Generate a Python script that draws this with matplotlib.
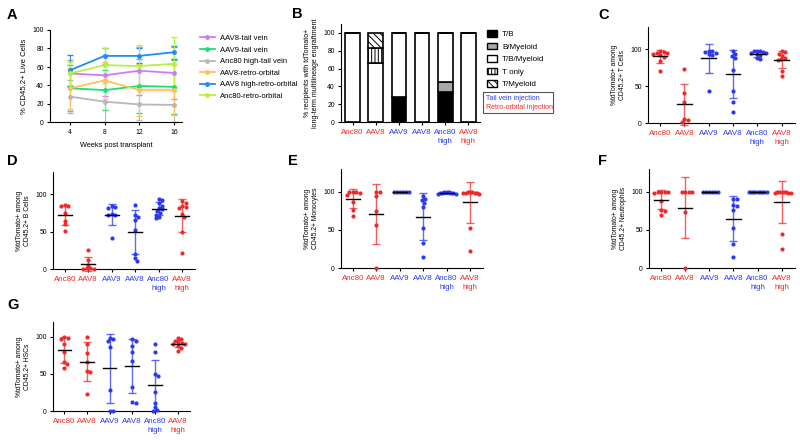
import numpy as np
import matplotlib
matplotlib.use('Agg')
import matplotlib.pyplot as plt
from matplotlib.lines import Line2D
from matplotlib.patches import Patch, Rectangle

plt.rcParams['font.family'] = ['Liberation Sans', 'DejaVu Sans']
plt.rcParams['font.size'] = 5.7
plt.rcParams['axes.linewidth'] = 0.8
plt.rcParams['hatch.linewidth'] = 0.7
plt.rcParams['xtick.major.size'] = 2.5
plt.rcParams['ytick.major.size'] = 2.5
plt.rcParams['xtick.major.width'] = 0.8
plt.rcParams['ytick.major.width'] = 0.8
plt.rcParams['xtick.labelsize'] = 5.7
plt.rcParams['ytick.labelsize'] = 4.9
plt.rcParams['xtick.major.pad'] = 2.5
plt.rcParams['ytick.major.pad'] = 2

RED = '#f02a2a'
BLUE = '#2b3af0'

# ---- panel A: engraftment over time
weeks = [4, 8, 12, 16]
a_names = ['AAV8-tail vein', 'AAV9-tail vein', 'Anc80 high-tail vein',
           'AAV8-retro-orbital', 'AAV8 high-retro-orbital', 'Anc80-retro-orbital']
a_colors = ['#d27af5', '#1fe06a', '#b8b8b8', '#ffc259', '#1f8cf5', '#b8f040']
a_mean = [[53, 51, 56, 53.5],
          [37, 35, 39.5, 38.5],
          [28, 22.5, 19.5, 19],
          [37, 45.5, 35, 35],
          [56.5, 72, 72, 76],
          [53, 62, 61, 63.5]]
a_sd = [[15, 22, 26, 28],
        [25, 22, 29, 29],
        [18, 22, 17, 19],
        [22, 20, 28, 27],
        [17, 9, 8, 7],
        [12, 19, 23, 29]]

# ---- panel B: lineage breakdown (%)
groups = ['Anc80', 'AAV8', 'AAV9', 'AAV8', 'Anc80\nhigh', 'AAV8\nhigh']
group_route = ['ro', 'ro', 'tv', 'tv', 'tv', 'ro']
lin_names = ['T/B', 'B/Myeloid', 'T/B/Myeloid', 'T only', 'T/Myeloid']
lin_tb = [0, 0, 28.6, 0, 33.3, 0]
lin_bmy = [0, 0, 0, 0, 11.1, 0]
lin_tbmy = [100, 66.7, 71.4, 100, 55.6, 100]
lin_t = [0, 16.65, 0, 0, 0, 0]
lin_tmy = [0, 16.65, 0, 0, 0, 0]

# ---- panels C-G: % tdTomato+ per mouse
t_cells = [[97, 96, 95, 95, 93, 92, 90, 84, 70],
           [73, 40, 29, 5, 4, 1],
           [98, 97, 96, 95, 93, 92, 43],
           [97, 93, 91, 88, 72, 43, 29, 15],
           [98, 97, 97, 96, 95, 95, 93, 92, 88, 86],
           [97, 96, 94, 91, 88, 86, 85, 70, 64]]
b_cells = [[86, 85, 84, 75, 65, 60, 51],
           [25, 12, 6, 2, 1, 0, 0],
           [84, 83, 82, 74, 73, 72, 42],
           [86, 73, 70, 66, 52, 20, 15, 11],
           [94, 92, 88, 85, 82, 80, 78, 75, 73, 70, 68],
           [91, 89, 84, 83, 82, 74, 70, 50, 22]]
monocytes = [[100, 100, 100, 99, 96, 87, 76, 68],
             [100, 100, 95, 75, 56, 0],
             [100, 100, 100, 100, 100, 100],
             [95, 91, 89, 85, 80, 52, 33, 14],
             [100, 100, 100, 99, 99, 99, 98, 97, 97],
             [100, 100, 100, 99, 99, 98, 98, 97, 52, 22]]
neutrophils = [[100, 100, 100, 100, 98, 88, 76, 75, 70],
               [100, 100, 100, 100, 74, 0],
               [100, 100, 100, 100, 100, 100],
               [91, 90, 83, 81, 76, 53, 31, 14],
               [100, 100, 100, 100, 100, 100, 100, 100, 100],
               [100, 100, 100, 100, 100, 99, 99, 98, 45, 25]]
hscs = [[100, 99, 97, 91, 80, 66, 63, 58],
        [100, 91, 78, 66, 54, 52, 23],
        [99, 97, 95, 86, 28, 0, 0],
        [97, 95, 87, 79, 68, 33, 12, 11],
        [91, 79, 50, 47, 25, 11, 6, 2, 0],
        [98, 97, 95, 93, 92, 91, 90, 88, 85, 81]]


fig = plt.figure(figsize=(8, 4.4), dpi=100)


def add_ax(l, r, t, b):
    ax = fig.add_axes([l / 800, 1 - b / 440, (r - l) / 800, (b - t) / 440])
    ax.spines['top'].set_visible(False)
    ax.spines['right'].set_visible(False)
    return ax


def color_groups(ax):
    ax.set_xticks(range(len(groups)))
    ax.set_xticklabels(groups, linespacing=1.5)
    for lab, rt in zip(ax.get_xticklabels(), group_route):
        lab.set_color(RED if rt == 'ro' else BLUE)


def swarm(ax, x0, vals, d=3.4, maxw=9.0):
    # simple beeswarm in pixel space, squeezed to maxw px each side
    tr = ax.transData
    placed = []
    px0 = tr.transform((x0, 0))[0]
    for v in vals:
        py = tr.transform((x0, v))[1]
        best = 0.0
        found = False
        for k in range(0, 60):
            for s in ([0] if k == 0 else [k * 0.5, -k * 0.5]):
                if all((s - ox) ** 2 + (py - oy) ** 2 >= d * d for ox, oy in placed):
                    best = s
                    found = True
                    break
            if found:
                break
        placed.append((best, py))
    offs = np.array([p[0] for p in placed])
    if np.abs(offs).max() > maxw:
        offs = offs * maxw / np.abs(offs).max()
    return [tr.inverted().transform((px0 + o, p[1]))[0] for o, p in zip(offs, placed)]


def dot_panel(ax, data, ylabel, ytop=130):
    ax.set_xlim(-0.5, 5.55)
    ax.set_ylim(0, ytop)
    ax.set_yticks([0, 50, 100])
    color_groups(ax)
    ax.set_ylabel(ylabel, linespacing=1.25, labelpad=3, fontsize=4.9)
    for i, vals in enumerate(data):
        c = RED if group_route[i] == 'ro' else BLUE
        m = np.mean(vals)
        s = np.std(vals, ddof=1)
        ax.errorbar(i, m, yerr=s, color=c, alpha=0.75, lw=1.0, capsize=3.2,
                    capthick=1.0, zorder=2, clip_on=False)
        xs = swarm(ax, i, vals)
        ax.scatter(xs, vals, s=9, color=c, zorder=3, clip_on=False, lw=0)
        ax.plot([i - 0.3, i + 0.3], [m, m], color='black', lw=1.0, zorder=4)


# ---- A
ax = add_ax(50, 182, 30, 122.5)
handles = []
for name, c, m, s in zip(a_names, a_colors, a_mean, a_sd):
    ax.errorbar(weeks, m, yerr=s, color=c, lw=1.3, marker='o', ms=2.5,
                capsize=2, capthick=1, elinewidth=0.8, clip_on=False)
    handles.append(Line2D([], [], color=c, lw=1.3, marker='o', ms=2.5))
ax.set_xlim(1.7, 16.9)
ax.set_ylim(0, 100)
ax.set_xticks(weeks)
ax.set_yticks(range(0, 101, 20))
ax.tick_params(axis='x', labelsize=4.9)
ax.set_xlabel('Weeks post transplant', labelpad=4, fontsize=5.3)
ax.set_ylabel('% CD45.2+ Live Cells', labelpad=3, fontsize=5.6)
fig.legend(handles, a_names, loc='upper left', bbox_to_anchor=(196 / 800, 1 - 31 / 440),
           frameon=False, fontsize=5.5, handlelength=2.0, labelspacing=0.55,
           handletextpad=0.6, borderpad=0)

# ---- B
ax = add_ax(341, 480, 24, 122)
x = np.arange(len(groups))
w = 0.64
bottom = np.zeros(len(groups))
styles = [dict(color='black'), dict(color='#a8a8a8'), dict(color='white'),
          dict(color='white', hatch='|||||'), dict(color='white', hatch='\\\\\\\\\\')]
for vals, st in zip([lin_tb, lin_bmy, lin_tbmy, lin_t, lin_tmy], styles):
    ax.bar(x, vals, w, bottom=bottom, edgecolor='black', linewidth=1.2, **st)
    bottom += np.array(vals)
ax.set_xlim(-0.5, 5.5)
ax.set_ylim(0, 110)
ax.set_yticks(range(0, 101, 20))
color_groups(ax)
ax.set_ylabel('% recipients with tdTomato+\nlong-term multilineage engraftment',
              linespacing=1.25, labelpad=3, fontsize=5.0)
leg_handles = [Patch(facecolor=st['color'], edgecolor='black', hatch=st.get('hatch'), lw=1)
               for st in styles]
fig.legend(leg_handles, lin_names, loc='upper left', bbox_to_anchor=(483 / 800, 1 - 26 / 440),
           frameon=False, fontsize=5.8, handlelength=1.25, handleheight=0.9,
           labelspacing=0.55, handletextpad=0.6, borderpad=0)
fig.patches.append(Rectangle((483 / 800, 1 - 113 / 440), 70 / 800, 21 / 440,
                             transform=fig.transFigure, fill=False, edgecolor='#555555', lw=0.8))
fig.text(486 / 800, 1 - 98 / 440, 'Tail vein injection', color=BLUE, fontsize=5.0, va='center')
fig.text(486 / 800, 1 - 107.5 / 440, 'Retro-orbital injection', color=RED, fontsize=5.0, va='center')

# ---- C-G
dot_panel(add_ax(648, 795, 27, 123), t_cells, '%tdTomato+ among\nCD45.2+ T Cells')
dot_panel(add_ax(53, 195, 172, 269), b_cells, '%tdTomato+ among\nCD45.2+ B Cells')
dot_panel(add_ax(341, 483, 169, 268), monocytes, '%tdTomato+ among\nCD45.2+ Monocytes')
dot_panel(add_ax(649, 795, 169, 268), neutrophils, '%tdTomato+ among\nCD45.2+ Neutrophils')
dot_panel(add_ax(53, 190, 322, 411), hscs, '%tdTomato+ among\nCD45.2+ HSCs', ytop=120)

for lab, (px, py) in zip('ABCDEFG', [(7, 15), (292, 14), (598, 15), (7, 161),
                                      (288, 161), (598, 161), (7, 305)]):
    fig.text(px / 800, 1 - py / 440, lab, fontsize=10.5, fontweight='bold', va='center')

fig.savefig('out.png', dpi=100)
